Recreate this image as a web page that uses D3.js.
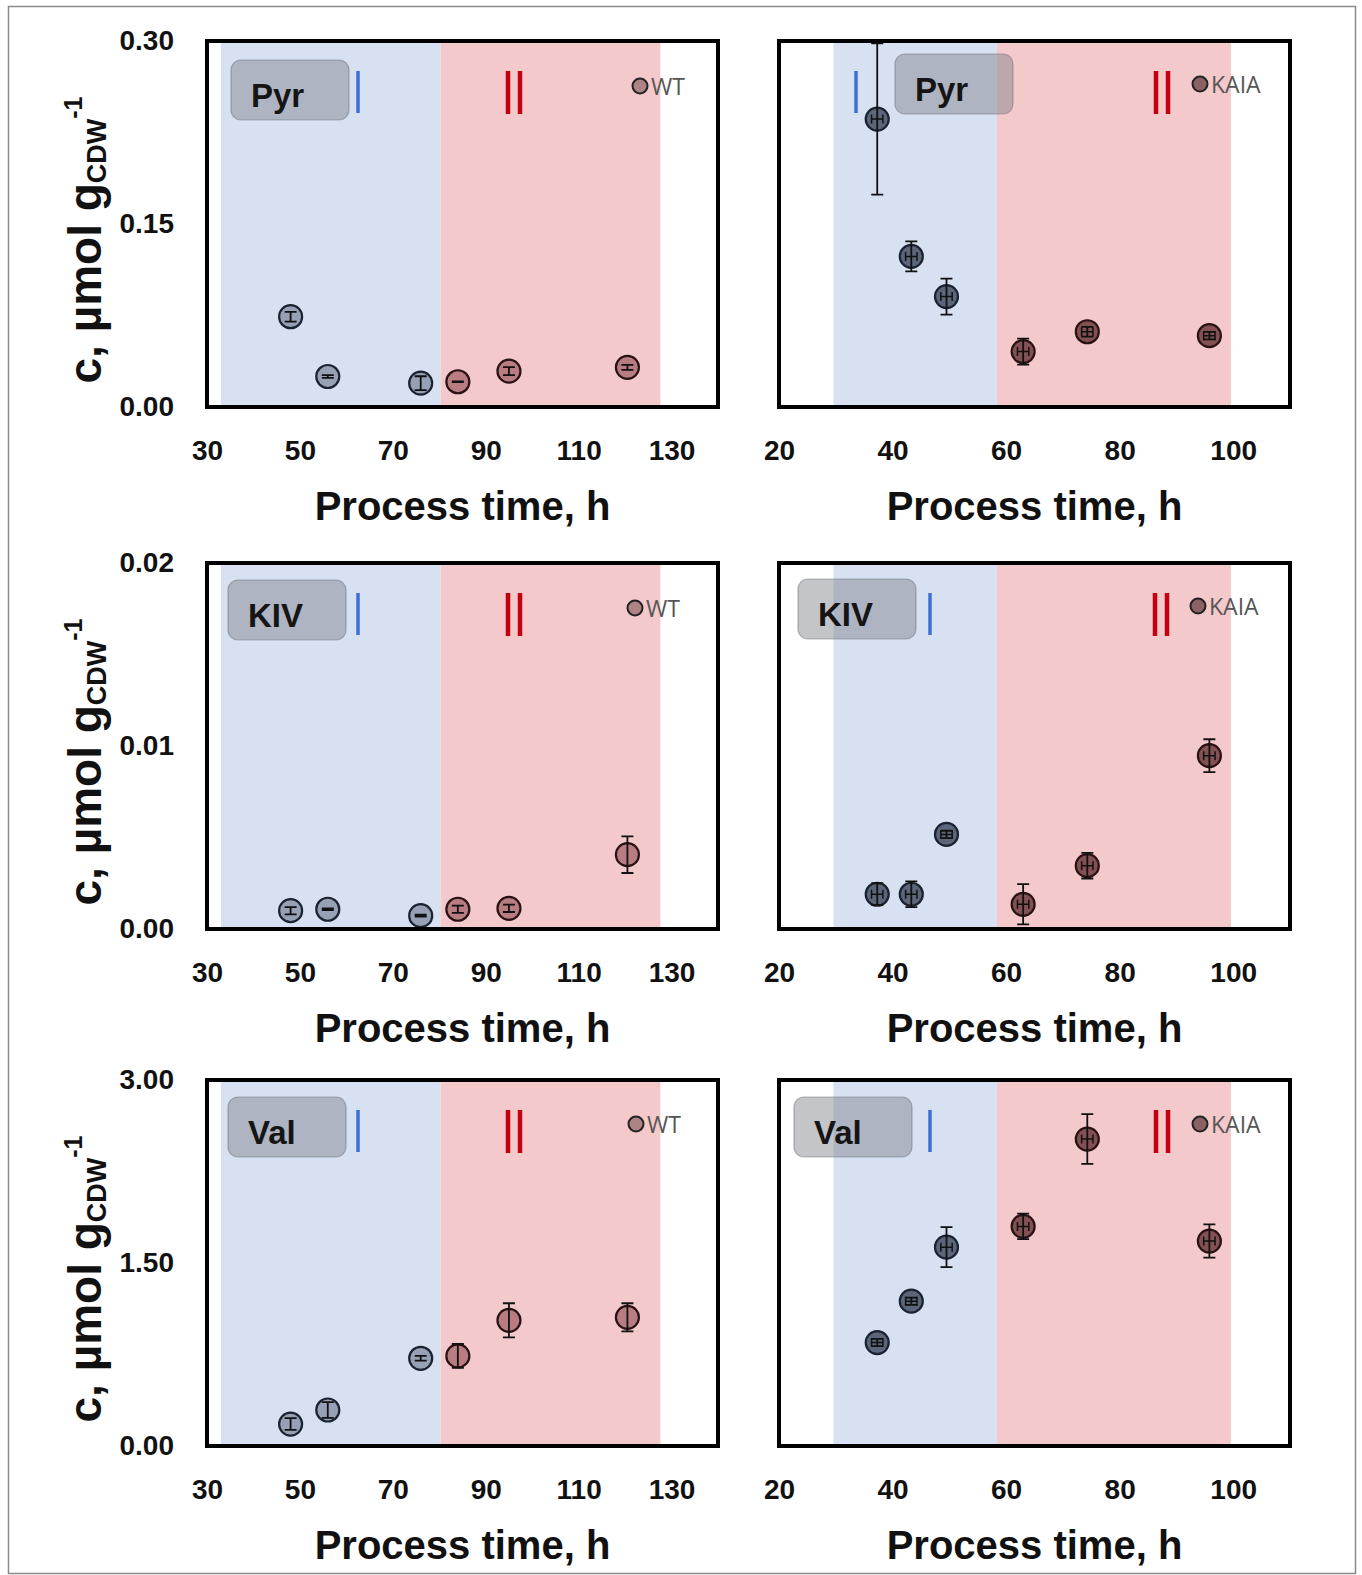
<!DOCTYPE html>
<meta charset="utf-8">
<style>
body { margin: 0; background: #fff; }
svg { display: block; }
.tick text { font: bold 28px "Liberation Sans", Arial, sans-serif; fill: #111; }
.xtitle { font: bold 40px "Liberation Sans", Arial, sans-serif; fill: #111; text-anchor: middle; }
.ytitle { font: bold 46px "Liberation Sans", Arial, sans-serif; fill: #111; text-anchor: middle; }
.tag { font: bold 33px "Liberation Sans", Arial, sans-serif; fill: #151515; }
.legend { font: 23px "Open Sans", "Liberation Sans", Arial, sans-serif; fill: #555; }
</style>
<svg width="1362" height="1575"></svg>
<script src="https://d3js.org/d3.v7.min.js"></script>
<script>
// sampling times (h)
var wtTime = [48, 56, 76, 84, 95, 120.5],
    kaiaTime = [37.3, 43.3, 49.5, 63, 74.3, 95.8],
    kaiaTimeErr = [1, 1, 1, 1, 1, 1],
    phaseOf = ["I", "I", "I", "II", "II", "II"];

// process phases (start/end, h)
var wtPhases = [[33, 80.3], [80.3, 127.6]],
    kaiaPhases = [[29.6, 58.4], [58.4, 99.6]];

// x axes
var wtDomain = [30, 140], wtTicks = [30, 50, 70, 90, 110, 130],
    kaiaDomain = [20, 110], kaiaTicks = [20, 40, 60, 80, 100];

// concentrations, umol/gCDW
var pyrWT = [0.074, 0.025, 0.0195, 0.0207, 0.0294, 0.0325],
    pyrWTErr = [0.004, 0.0012, 0.0057, 0.0003, 0.0033, 0.002],
    pyrKAIA = [0.236, 0.1234, 0.0905, 0.0454, 0.0617, 0.0585],
    pyrKAIAErr = [0.062, 0.0123, 0.0148, 0.0107, 0.004, 0.003];
var kivWT = [0.0010, 0.00108, 0.00073, 0.00108, 0.00113, 0.00406],
    kivWTErr = [0.0002, 0.00005, 0.00005, 0.0002, 0.0002, 0.001],
    kivKAIA = [0.0019, 0.0019, 0.00517, 0.00135, 0.00346, 0.00947],
    kivKAIAErr = [0.0006, 0.0007, 0.0002, 0.0011, 0.0007, 0.0009];
var valWT = [0.18, 0.295, 0.719, 0.738, 1.03, 1.055],
    valWTErr = [0.048, 0.065, 0.02, 0.098, 0.14, 0.115],
    valKAIA = [0.848, 1.187, 1.63, 1.80, 2.516, 1.68],
    valKAIAErr = [0.03, 0.03, 0.164, 0.105, 0.204, 0.136];

// y axes
var pyrDomain = [0, 0.3], pyrTicks = [0, 0.15, 0.3],
    kivDomain = [0, 0.02], kivTicks = [0, 0.01, 0.02],
    valDomain = [0, 3], valTicks = [0, 1.5, 3];

var svg = d3.select("svg");

// outer frame
svg.append("rect")
    .attr("x", 8.5).attr("y", 6.5).attr("width", 1347).attr("height", 1567)
    .attr("fill", "none").attr("stroke", "#8a8a8a").attr("stroke-width", 1.5);

var W = 511, H = 366;
var rowTop = [41, 563, 1080];
var colLeft = [207, 779];

var strains = {
  WT: { time: wtTime, xErr: null, phases: wtPhases, domain: wtDomain, ticks: wtTicks,
        fill: { I: "rgba(80,92,118,0.48)", II: "rgba(120,42,46,0.48)" }, legend: "#ad8385" },
  KAIA: { time: kaiaTime, xErr: kaiaTimeErr, phases: kaiaPhases, domain: kaiaDomain, ticks: kaiaTicks,
        fill: { I: "rgba(50,60,82,0.75)", II: "rgba(88,34,36,0.72)" }, legend: "#8a6264" }
};

var panels = [
  { row: 0, col: 0, strain: "WT", name: "Pyr", y: pyrWT, e: pyrWTErr, dom: pyrDomain, ticks: pyrTicks,
    box: [24, 19], one: 151, two: 301, leg: [433, 45] },
  { row: 0, col: 1, strain: "KAIA", name: "Pyr", y: pyrKAIA, e: pyrKAIAErr, dom: pyrDomain, ticks: pyrTicks,
    box: [116, 13], one: 77, two: 377, leg: [421, 43] },
  { row: 1, col: 0, strain: "WT", name: "KIV", y: kivWT, e: kivWTErr, dom: kivDomain, ticks: kivTicks,
    box: [21, 17], one: 151, two: 301, leg: [428, 45] },
  { row: 1, col: 1, strain: "KAIA", name: "KIV", y: kivKAIA, e: kivKAIAErr, dom: kivDomain, ticks: kivTicks,
    box: [19, 16], one: 151, two: 376, leg: [419, 43] },
  { row: 2, col: 0, strain: "WT", name: "Val", y: valWT, e: valWTErr, dom: valDomain, ticks: valTicks,
    box: [21, 17], one: 151, two: 301, leg: [429, 44] },
  { row: 2, col: 1, strain: "KAIA", name: "Val", y: valKAIA, e: valKAIAErr, dom: valDomain, ticks: valTicks,
    box: [15, 17], one: 151, two: 377, leg: [421, 44] }
];

panels.forEach(function(p) {
  var s = strains[p.strain];
  var g = svg.append("g")
      .attr("transform", "translate(" + colLeft[p.col] + "," + rowTop[p.row] + ")");

  var x = d3.scaleLinear().domain(s.domain).range([0, W]);
  var y = d3.scaleLinear().domain(p.dom).range([H, 0]);

  // phase shading
  g.selectAll("rect.phase")
    .data(s.phases)
    .enter().append("rect")
      .attr("class", "phase")
      .attr("x", function(d) { return x(d[0]); })
      .attr("width", function(d) { return x(d[1]) - x(d[0]); })
      .attr("y", 0).attr("height", H - 2)
      .attr("fill", function(d, i) { return i === 0 ? "#d8e1f2" : "#f3c9cb"; });

  // tag box
  g.append("rect")
      .attr("x", p.box[0]).attr("y", p.box[1]).attr("width", 118).attr("height", 60)
      .attr("rx", 10)
      .attr("fill", "rgba(120,122,130,0.44)")
      .attr("stroke", "rgba(110,112,118,0.5)").attr("stroke-width", 1.2);
  g.append("text").attr("class", "tag")
      .attr("x", p.box[0] + 20).attr("y", p.box[1] + 47)
      .text(p.name);

  // phase numerals
  g.append("line")
      .attr("x1", p.one).attr("x2", p.one).attr("y1", 30).attr("y2", 72)
      .attr("stroke", "#3d6fd4").attr("stroke-width", 3.5);
  [0, 12].forEach(function(dx) {
    g.append("line")
        .attr("x1", p.two + dx).attr("x2", p.two + dx).attr("y1", 30).attr("y2", 73)
        .attr("stroke", "#c40010").attr("stroke-width", 4.5);
  });

  // legend
  g.append("circle")
      .attr("cx", p.leg[0]).attr("cy", p.leg[1]).attr("r", 7.5)
      .attr("fill", s.legend).attr("stroke", "#222").attr("stroke-width", 2);
  g.append("text").attr("class", "legend")
      .attr("x", p.leg[0] + 11).attr("y", p.leg[1] + 8.5)
      .text(p.strain);

  var pts = p.y.map(function(v, i) {
    return { t: s.time[i], te: s.xErr ? s.xErr[i] : 0, v: v, e: p.e[i], ph: phaseOf[i] };
  });

  var pt = g.selectAll("g.pt")
    .data(pts)
    .enter().append("g").attr("class", "pt");

  pt.append("circle")
      .attr("cx", function(d) { return x(d.t); })
      .attr("cy", function(d) { return y(d.v); })
      .attr("r", 11.5)
      .attr("fill", function(d) { return s.fill[d.ph]; })
      .attr("stroke", function(d) { return d.ph === "I" ? "#1b2230" : "#2a1214"; })
      .attr("stroke-width", 2.2);

  // vertical error bars
  pt.append("path")
      .attr("fill", "none").attr("stroke", "#111").attr("stroke-width", 1.8)
      .attr("d", function(d) {
        var cx = x(d.t), y0 = y(d.v - d.e), y1 = y(d.v + d.e), c = 6;
        return "M" + cx + "," + y0 + "V" + y1 +
               "M" + (cx - c) + "," + y0 + "H" + (cx + c) +
               "M" + (cx - c) + "," + y1 + "H" + (cx + c);
      });

  // horizontal error bars (time)
  if (s.xErr) {
    pt.append("path")
        .attr("fill", "none").attr("stroke", "#111").attr("stroke-width", 1.5)
        .attr("d", function(d) {
          var cy = y(d.v), x0 = x(d.t - d.te), x1 = x(d.t + d.te), c = 4.5;
          return "M" + x0 + "," + cy + "H" + x1 +
                 "M" + x0 + "," + (cy - c) + "V" + (cy + c) +
                 "M" + x1 + "," + (cy - c) + "V" + (cy + c);
        });
  }

  // frame
  g.append("rect")
      .attr("x", 0).attr("y", 0).attr("width", W).attr("height", H)
      .attr("fill", "none").attr("stroke", "#000").attr("stroke-width", 4);

  // x axis
  var xa = g.append("g")
      .attr("transform", "translate(0," + H + ")")
      .call(d3.axisBottom(x).tickValues(s.ticks).tickSize(0).tickPadding(33).tickFormat(d3.format("d")));
  xa.select(".domain").remove();

  g.append("text").attr("class", "xtitle")
      .attr("x", W / 2).attr("y", H + 113)
      .text("Process time, h");

  // y axis, left column only
  if (p.col === 0) {
    var ya = g.append("g")
        .call(d3.axisLeft(y).tickValues(p.ticks).tickSize(0).tickPadding(33).tickFormat(d3.format(".2f")));
    ya.select(".domain").remove();

    var yt = g.append("text").attr("class", "ytitle")
        .attr("transform", "translate(-106," + (H / 2 + 16) + ") rotate(-90)");
    yt.append("tspan").text("c, µmol g");
    yt.append("tspan").attr("font-size", 27).attr("dy", 5).text("CDW");
    yt.append("tspan").attr("font-size", 25).attr("dy", -24).text("-1");
  }
});
</script>
